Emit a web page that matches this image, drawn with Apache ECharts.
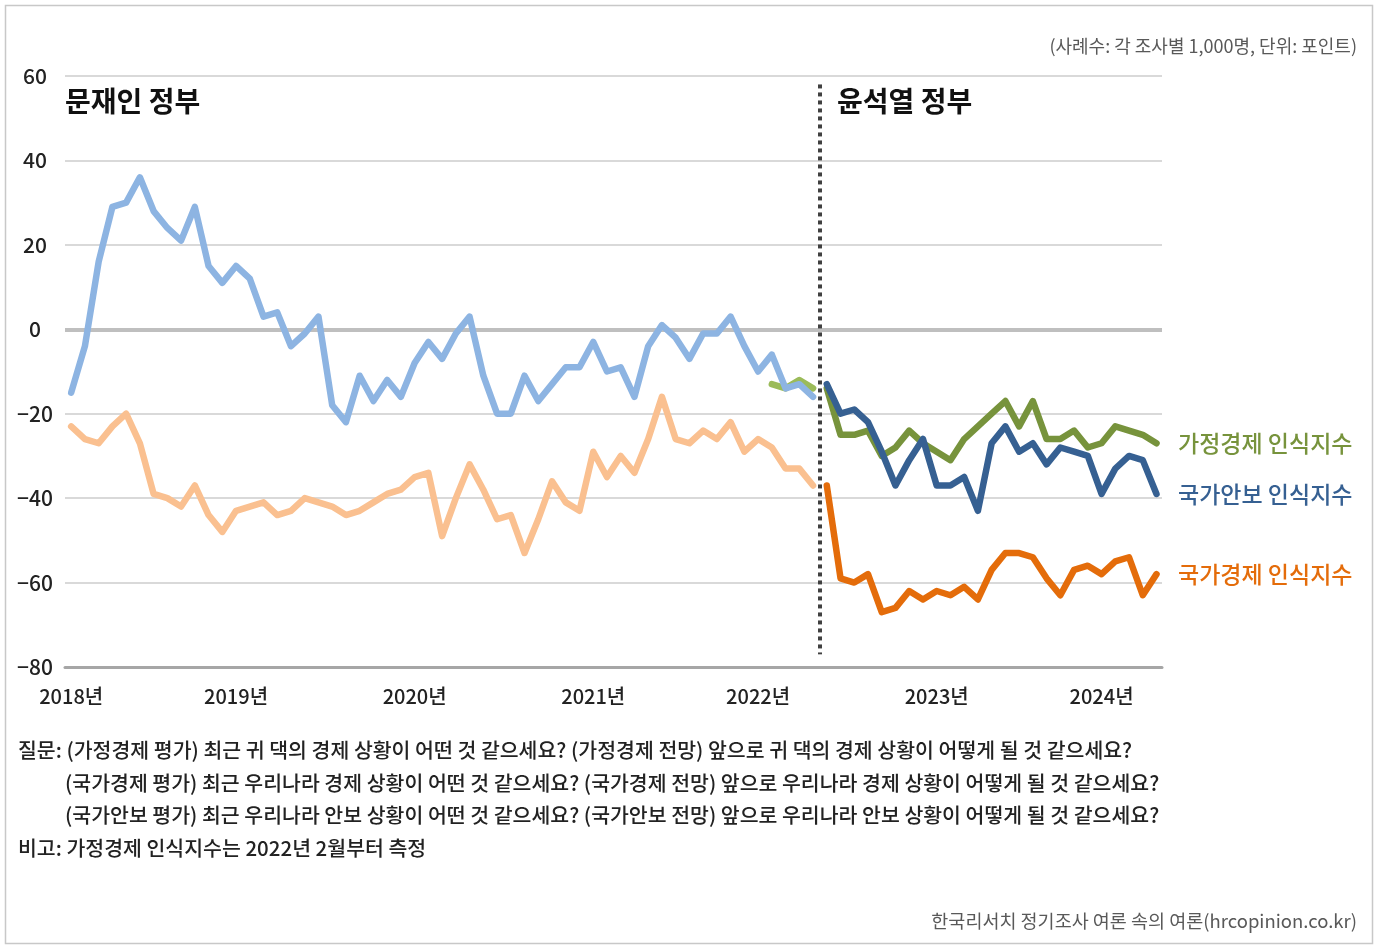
<!DOCTYPE html>
<html>
<head>
<meta charset="utf-8">
<title>인식지수 추이</title>
<script src="https://cdn.jsdelivr.net/npm/echarts@6/dist/echarts.min.js"></script>
<style>
  html, body { margin: 0; padding: 0; background: #fff; }
  #main { width: 1380px; height: 947px; }
</style>
</head>
<body>
<div id="main"></div>
<script>
// 조사 회차 index 기준 (0 = 2018년 첫 조사)
var yearLabels = ['2018년', '2019년', '2020년', '2021년', '2022년', '2023년', '2024년'];
var yearIndex = [0, 12, 25, 38, 50, 63, 75];
var yTicks = [60, 40, 20, 0, -20, -40, -60, -80];

// 문재인 정부 (index 0 ~ 54)
var securityMoon = [-15, -4, 16, 29, 30, 36, 28, 24, 21, 29, 15, 11, 15, 12, 3, 4, -4, -1, 3, -18,
  -22, -11, -17, -12, -16, -8, -3, -7, -1, 3, -11, -20, -20, -11, -17, -13, -9, -9, -3, -10,
  -9, -16, -4, 1, -2, -7, -1, -1, 3, -4, -10, -6, -14, -13, -16];
var economyMoon = [-23, -26, -27, -23, -20, -27, -39, -40, -42, -37, -44, -48, -43, -42, -41, -44, -43, -40, -41, -42,
  -44, -43, -41, -39, -38, -35, -34, -49, -40, -32, -38, -45, -44, -53, -45, -36, -41, -43, -29, -35,
  -30, -34, -26, -16, -26, -27, -24, -26, -22, -29, -26, -28, -33, -33, -37];
var householdMoon = [-13, -14, -12, -14]; // index 51 ~ 54

// 윤석열 정부 (index 55 ~ 79)
var householdYoon = [-14, -25, -25, -24, -30, -28, -24, -27, -29, -31, -26, -23, -20, -17, -23, -17, -26, -26, -24, -28,
  -27, -23, -24, -25, -27];
var securityYoon = [-13, -20, -19, -22, -29, -37, -31, -26, -37, -37, -35, -43, -27, -23, -29, -27, -32, -28, -29, -30,
  -39, -33, -30, -31, -39];
var economyYoon = [-37, -59, -60, -58, -67, -66, -62, -64, -62, -63, -61, -64, -57, -53, -53, -54, -59, -63, -57, -56,
  -58, -55, -54, -63, -58];

var FONT = '"Noto Sans CJK KR", "Noto Sans", sans-serif';

function toPairs(arr, start) {
  return arr.map(function (v, i) { return [start + i, v]; });
}

function lineSeries(name, arr, start, color) {
  return {
    name: name,
    type: 'line',
    data: toPairs(arr, start),
    showSymbol: false,
    symbol: 'none',
    lineStyle: { color: color, width: 6.5, cap: 'round', join: 'round' },
    z: 3
  };
}

var chart = echarts.init(document.getElementById('main'));

var series = [
  lineSeries('가정경제(문)', householdMoon, 51, '#9BBB59'),
  lineSeries('국가안보(문)', securityMoon, 0, '#8DB4E2'),
  lineSeries('국가경제(문)', economyMoon, 0, '#FAC090'),
  lineSeries('가정경제', householdYoon, 55, '#77933C'),
  lineSeries('국가안보', securityYoon, 55, '#366092'),
  lineSeries('국가경제', economyYoon, 55, '#E46C0A')
];

// 0 기준선 + 정부 구분 점선
series[1].markLine = {
  silent: true,
  symbol: 'none',
  label: { show: false },
  data: [
    { yAxis: 0, lineStyle: { color: '#BFBFBF', width: 4, type: 'solid' } },
    [
      { coord: [54.5, 58], lineStyle: { color: '#404040', width: 4, type: [4, 4] } },
      { coord: [54.5, -77] }
    ]
  ],
  z: 2
};

var option = {
  animation: false,
  backgroundColor: '#fff',
  grid: { left: 65, right: 218, top: 76, bottom: 280 },
  xAxis: {
    type: 'value',
    min: -0.45,
    max: 79.4,
    axisLine: { show: true, onZero: false, lineStyle: { color: '#A6A6A6', width: 3 } },
    axisTick: { show: false },
    splitLine: { show: false },
    axisLabel: {
      customValues: yearIndex,
      formatter: function (v) {
        var k = yearIndex.indexOf(Math.round(v));
        return k >= 0 ? yearLabels[k] : '';
      },
      margin: 19,
      color: '#222',
      fontFamily: FONT,
      fontWeight: 500,
      fontSize: 20
    }
  },
  yAxis: {
    type: 'value',
    min: -80,
    max: 60,
    interval: 20,
    axisLine: { show: false },
    axisTick: { show: false },
    splitLine: { lineStyle: { color: '#D9D9D9', width: 2 } },
    axisLabel: {
      align: 'center',
      margin: 30,
      color: '#222',
      fontFamily: FONT,
      fontWeight: 500,
      fontSize: 21,
      formatter: function (v) { return v < 0 ? '\u2212' + Math.abs(v) : String(v); }
    }
  },
  series: series,
  graphic: [
    {
      type: 'rect',
      shape: { x: 5.5, y: 5.5, width: 1367, height: 938 },
      style: { fill: 'none', stroke: '#C8C8C8', lineWidth: 1.5 },
      silent: true
    },
    {
      type: 'text', x: 1357, y: 46,
      style: { text: '(사례수: 각 조사별 1,000명, 단위: 포인트)', font: '18px ' + FONT, fill: '#595959', align: 'right', verticalAlign: 'middle' }
    },
    {
      type: 'text', x: 65, y: 101,
      style: { text: '문재인 정부', font: 'bold 28px ' + FONT, fill: '#111', align: 'left', verticalAlign: 'middle' }
    },
    {
      type: 'text', x: 837, y: 101,
      style: { text: '윤석열 정부', font: 'bold 28px ' + FONT, fill: '#111', align: 'left', verticalAlign: 'middle' }
    },
    {
      type: 'text', x: 1178, y: 443,
      style: { text: '가정경제 인식지수', font: '500 23px ' + FONT, fill: '#77933C', align: 'left', verticalAlign: 'middle' }
    },
    {
      type: 'text', x: 1178, y: 494,
      style: { text: '국가안보 인식지수', font: '500 23px ' + FONT, fill: '#366092', align: 'left', verticalAlign: 'middle' }
    },
    {
      type: 'text', x: 1178, y: 574,
      style: { text: '국가경제 인식지수', font: '500 23px ' + FONT, fill: '#E46C0A', align: 'left', verticalAlign: 'middle' }
    },
    {
      type: 'text', x: 18, y: 750,
      style: { text: '질문: (가정경제 평가) 최근 귀 댁의 경제 상황이 어떤 것 같으세요? (가정경제 전망) 앞으로 귀 댁의 경제 상황이 어떻게 될 것 같으세요?', font: '500 20.5px ' + FONT, fill: '#222', align: 'left', verticalAlign: 'middle' }
    },
    {
      type: 'text', x: 65, y: 783,
      style: { text: '(국가경제 평가) 최근 우리나라 경제 상황이 어떤 것 같으세요? (국가경제 전망) 앞으로 우리나라 경제 상황이 어떻게 될 것 같으세요?', font: '500 20.5px ' + FONT, fill: '#222', align: 'left', verticalAlign: 'middle' }
    },
    {
      type: 'text', x: 65, y: 815,
      style: { text: '(국가안보 평가) 최근 우리나라 안보 상황이 어떤 것 같으세요? (국가안보 전망) 앞으로 우리나라 안보 상황이 어떻게 될 것 같으세요?', font: '500 20.5px ' + FONT, fill: '#222', align: 'left', verticalAlign: 'middle' }
    },
    {
      type: 'text', x: 18, y: 848,
      style: { text: '비고: 가정경제 인식지수는 2022년 2월부터 측정', font: '500 20.5px ' + FONT, fill: '#222', align: 'left', verticalAlign: 'middle' }
    },
    {
      type: 'text', x: 1357, y: 921,
      style: { text: '한국리서치 정기조사 여론 속의 여론(hrcopinion.co.kr)', font: '18.5px ' + FONT, fill: '#595959', align: 'right', verticalAlign: 'middle' }
    }
  ]
};

chart.setOption(option);
</script>
</body>
</html>
